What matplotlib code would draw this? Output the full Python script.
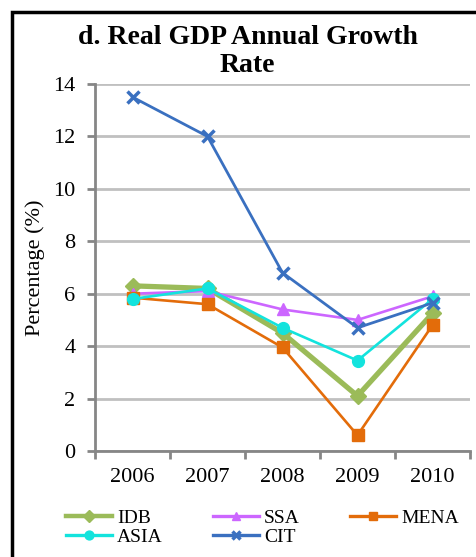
import matplotlib
matplotlib.use("Agg")
import matplotlib.pyplot as plt
from matplotlib.patches import Rectangle
import numpy as np

years = ["2006", "2007", "2008", "2009", "2010"]
idb = [6.3, 6.2, 4.5, 2.1, 5.25]
ssa = [6.0, 6.1, 5.4, 5.0, 5.9]
mena = [5.85, 5.6, 3.95, 0.6, 4.8]
asia = [5.8, 6.2, 4.7, 3.45, 5.8]
cit = [13.5, 12.0, 6.8, 4.7, 5.65]
yticks = [0, 2, 4, 6, 8, 10, 12, 14]

plt.rcParams['font.family'] = ['Liberation Serif', 'DejaVu Serif']

fig = plt.figure(figsize=(4.76, 5.57), dpi=100)
ax = fig.add_axes([95/476, 1-451/557, (470-95)/476, (451-84)/557])

x = np.arange(1, len(years)+1)
series = [
    ("IDB", idb, "#9bbb59", "D", 3.8, 8),
    ("SSA", ssa, "#cc66ff", "^", 1.9, 8),
    ("MENA", mena, "#e36c0a", "s", 1.9, 8),
    ("ASIA", asia, "#13e3dd", "o", 1.9, 8.5),
    ("CIT", cit, "#3a70c0", "x", 2.0, 8),
]
for name, vals, col, mk, lw, ms in series:
    kw = dict(color=col, lw=lw, marker=mk, markersize=ms, label=name,
              markerfacecolor=col, markeredgecolor=col)
    if mk == "x":
        kw["markeredgewidth"] = 2.5
    ax.plot(x, vals, **kw)

ax.set_xlim(0.5, len(years)+0.5)
ax.set_ylim(0, 14)
ax.set_yticks(yticks)
ax.set_yticklabels([str(v) for v in yticks], fontsize=16)
ax.set_xticks(np.arange(0.5, len(years)+1, 1.0))
ax.set_xticklabels([])
ax.set_xticks(x, minor=True)
ax.set_xticklabels(years, minor=True, fontsize=16)
ax.tick_params(axis='x', which='minor', length=0, pad=12)
ax.tick_params(axis='x', which='major', length=6, width=2, color="#868686", direction='out')
ax.tick_params(axis='y', length=6, width=2, color="#868686", direction='out', pad=8)
ax.yaxis.grid(True, color="#c0c0c0", lw=2)
ax.set_axisbelow(True)
for s in ["top", "right"]:
    ax.spines[s].set_visible(False)
for s in ["left", "bottom"]:
    ax.spines[s].set_color("#868686")
    ax.spines[s].set_linewidth(2)
ax.set_ylabel("Percentage (%)", fontsize=16, labelpad=6)

fig.text(0.52, 1-38/557, "d. Real GDP Annual Growth", ha='center', va='center',
         fontsize=20, fontweight='bold')
fig.text(0.52, 1-65/557, "Rate", ha='center', va='center',
         fontsize=20, fontweight='bold')

handles, labels = ax.get_legend_handles_labels()
order = [0, 3, 1, 4, 2]
leg = fig.legend([handles[i] for i in order], [labels[i] for i in order],
                 loc='center', bbox_to_anchor=(0.551, 1-527.5/557), ncol=3,
                 frameon=False, fontsize=14, handlelength=2.4, handletextpad=0.25,
                 columnspacing=2.55, labelspacing=0.08, markerscale=0.75,
                 borderpad=0, borderaxespad=0)
for ln in leg.get_lines():
    ln.set_linewidth(3.2 if ln.get_label() == "IDB" else 2.4)

fig.patches.append(Rectangle((12/476, -0.1), 1.2, 1-12/557+0.1, transform=fig.transFigure,
                             fill=False, edgecolor='black', lw=2.5))
fig.savefig("out.png", dpi=100)
